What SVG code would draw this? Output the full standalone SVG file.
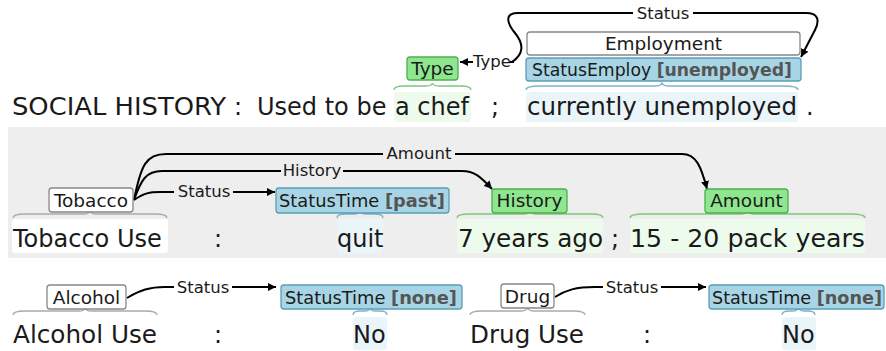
<svg xmlns="http://www.w3.org/2000/svg" width="886" height="351" viewBox="0 0 886 351">
  <defs>
    <marker id="arrow" viewBox="0 0 10 10" refX="10" refY="5" markerWidth="8" markerHeight="8" markerUnits="userSpaceOnUse" orient="auto">
      <path d="M0,0 L10,5 L0,10 z" fill="#000"/>
    </marker>
  </defs>
  <style>
    text { font-family: "DejaVu Sans", Verdana, sans-serif; fill: #1a1a1a; }
    .sent { font-size: 24px; }
    .lbl { font-size: 18.5px; text-anchor: middle; }
    .arclbl { font-size: 16.5px; text-anchor: middle; }
    .attr { font-weight: bold; fill: #555; }
    .arc { fill: none; stroke: #000; stroke-width: 2; }
    .arrowed { marker-end: url(#arrow); }
    .ent { fill: #fff; stroke: #888; stroke-width: 1.3; }
    .green { fill: #8ee68e; stroke: #4fae4f; stroke-width: 1.3; }
    .blue { fill: #a8d5e5; stroke: #5a9db6; stroke-width: 1.3; }
    .bgG { fill: #ecfbec; }
    .bgB { fill: #eaf5fa; }
    .bgW { fill: #fff; }
    .brace { fill: none; stroke-width: 1.3; }
    .brG { stroke: #7cc77c; }
    .brB { stroke: #7fb3c6; }
    .brN { stroke: #aaa; }
  </style>

  <!-- shaded band behind the tobacco sentence -->
  <rect x="8" y="127" width="878" height="131" fill="#eeeeee"/>

  <!-- span highlights behind the sentence text -->
  <g id="highlights">
    <rect class="bgG" x="394" y="92" width="77" height="30" rx="3"/>
    <rect class="bgB" x="526" y="92" width="272" height="30" rx="3"/>
    <rect class="bgW" x="12" y="219" width="156" height="34" rx="3"/>
    <rect class="bgB" x="337" y="219" width="46" height="34" rx="3"/>
    <rect class="bgG" x="457" y="219" width="146" height="34" rx="3"/>
    <rect class="bgG" x="630" y="219" width="235" height="34" rx="3"/>
    <rect class="bgB" x="353" y="317" width="34" height="33" rx="3"/>
    <rect class="bgB" x="782" y="317" width="34" height="33" rx="3"/>
  </g>

  <!-- sentence text -->
  <g id="sentences">
    <text class="sent" x="12" y="115" textLength="214" lengthAdjust="spacingAndGlyphs">SOCIAL HISTORY</text>
    <text class="sent" x="234" y="115">:</text>
    <text class="sent" x="257" y="115">Used to be</text>
    <text class="sent" x="395" y="115">a chef</text>
    <text class="sent" x="491" y="115">;</text>
    <text class="sent" x="527" y="115" textLength="270" lengthAdjust="spacingAndGlyphs">currently unemployed</text>
    <text class="sent" x="806" y="115">.</text>

    <text class="sent" x="13" y="247">Tobacco Use</text>
    <text class="sent" x="214" y="247">:</text>
    <text class="sent" x="337" y="247">quit</text>
    <text class="sent" x="458" y="247" textLength="145" lengthAdjust="spacingAndGlyphs">7 years ago</text>
    <text class="sent" x="611" y="247">;</text>
    <text class="sent" x="630" y="247" textLength="235" lengthAdjust="spacingAndGlyphs">15 - 20 pack years</text>

    <text class="sent" x="13" y="343" textLength="144" lengthAdjust="spacingAndGlyphs">Alcohol Use</text>
    <text class="sent" x="214" y="343">:</text>
    <text class="sent" x="353" y="343">No</text>
    <text class="sent" x="470" y="343" textLength="114" lengthAdjust="spacingAndGlyphs">Drug Use</text>
    <text class="sent" x="643" y="343">:</text>
    <text class="sent" x="782" y="343">No</text>
  </g>

  <!-- span braces -->
  <g id="braces">
    <path class="brace brG" d="M394,90 Q394,86 404,86 L426,86 Q432,86 432.5,83 Q433,86 439,86 L461,86 Q471,86 471,90"/>
    <path class="brace brB" d="M526,90 Q526,86 540,86 L655,86 Q661,86 662,83 Q663,86 669,86 L784,86 Q798,86 798,90"/>
    <path class="brace brN" d="M13,218 Q13,214 25,214 L84,214 Q89,214 90,211 Q91,214 96,214 L155,214 Q167,214 167,218"/>
    <path class="brace brB" d="M337,218 Q337,214 345,214 L354,214 Q359,214 360,211 Q361,214 366,214 L375,214 Q383,214 383,218"/>
    <path class="brace brG" d="M457,218 Q457,214 469,214 L524,214 Q529,214 530,211 Q531,214 536,214 L591,214 Q603,214 603,218"/>
    <path class="brace brG" d="M630,218 Q630,214 644,214 L741,214 Q746,214 747.5,211 Q749,214 754,214 L851,214 Q865,214 865,218"/>
    <path class="brace brN" d="M13,315 Q13,311 25,311 L79,311 Q84,311 85,308 Q86,311 91,311 L145,311 Q157,311 157,315"/>
    <path class="brace brB" d="M353,315 Q353,311 360,311 L365,311 Q369,311 370,308 Q371,311 375,311 L380,311 Q387,311 387,315"/>
    <path class="brace brN" d="M470,315 Q470,311 482,311 L521,311 Q526,311 527.5,308 Q529,311 534,311 L573,311 Q585,311 585,315"/>
    <path class="brace brB" d="M782,315 Q782,311 789,311 L793,311 Q797,311 798.5,308 Q800,311 804,311 L808,311 Q815,311 815,315"/>
  </g>

  <!-- connectors -->
  <g id="connectors">
    <!-- Employment: Status and Type -->
    <path class="arc" d="M512,62 C524,54 524,44 515,33 C506,22 505,13 518,13 L633,13"/>
    <path class="arc arrowed" d="M693,13 L806,13 C818,13 820,20 815,30 L801,57"/>
    <path class="arc" d="M510,62 L514,62"/>
    <path class="arc arrowed" d="M473,62 L460,62"/>
    <text class="arclbl" x="663" y="19">Status</text>
    <text class="arclbl" x="492" y="67">Type</text>

    <!-- Tobacco: Status, History, Amount -->
    <path class="arc" d="M134,200 C144,193 150,192 160,192 L174,192"/>
    <path class="arc arrowed" d="M233,192 L275,192"/>
    <text class="arclbl" x="204" y="197">Status</text>

    <path class="arc" d="M134,200 C141,180 146,171 162,171 L281,171"/>
    <path class="arc arrowed" d="M343,171 L462,171 C474,171 480,176 492,189"/>
    <text class="arclbl" x="312" y="176">History</text>

    <path class="arc" d="M134,200 C141,165 146,154 166,154 L383,154"/>
    <path class="arc arrowed" d="M455,154 L682,154 C696,154 701,166 707,189"/>
    <text class="arclbl" x="419" y="159">Amount</text>

    <!-- Alcohol: Status -->
    <path class="arc" d="M127,298 C140,290 150,287 165,287 L174,287"/>
    <path class="arc arrowed" d="M232,287 L276,287"/>
    <text class="arclbl" x="203" y="293">Status</text>

    <!-- Drug: Status -->
    <path class="arc" d="M555,297 C566,290 576,287 595,287 L603,287"/>
    <path class="arc arrowed" d="M661,287 L706,287"/>
    <text class="arclbl" x="632" y="293">Status</text>
  </g>

  <!-- annotation nodes -->
  <g id="node-employment">
    <rect class="ent" x="527" y="32" width="273" height="23" rx="3"/>
    <text class="lbl" x="663.5" y="50">Employment</text>
  </g>
  <g id="node-statusemploy">
    <rect class="blue" x="526" y="58" width="275" height="23" rx="3"/>
    <text class="lbl" x="532" y="76" style="text-anchor:start" textLength="260" lengthAdjust="spacingAndGlyphs">StatusEmploy <tspan class="attr">[unemployed]</tspan></text>
  </g>
  <g id="node-type">
    <rect class="green" x="407" y="57" width="51" height="23" rx="3"/>
    <text class="lbl" x="432.5" y="75">Type</text>
  </g>

  <g id="node-tobacco">
    <rect class="ent" x="49" y="188" width="84" height="24" rx="3"/>
    <text class="lbl" x="91" y="207">Tobacco</text>
  </g>
  <g id="node-statustime-past">
    <rect class="blue" x="276" y="188" width="173" height="25" rx="3"/>
    <text class="lbl" x="279" y="207" style="text-anchor:start" textLength="166" lengthAdjust="spacingAndGlyphs">StatusTime <tspan class="attr">[past]</tspan></text>
  </g>
  <g id="node-history">
    <rect class="green" x="492" y="189" width="75" height="24" rx="3"/>
    <text class="lbl" x="529.5" y="207">History</text>
  </g>
  <g id="node-amount">
    <rect class="green" x="705" y="189" width="83" height="24" rx="3"/>
    <text class="lbl" x="746.5" y="207">Amount</text>
  </g>

  <g id="node-alcohol">
    <rect class="ent" x="47" y="285" width="79" height="24" rx="3"/>
    <text class="lbl" x="86.5" y="304">Alcohol</text>
  </g>
  <g id="node-statustime-none-1">
    <rect class="blue" x="281" y="285" width="181" height="24" rx="3"/>
    <text class="lbl" x="285" y="304" style="text-anchor:start" textLength="172" lengthAdjust="spacingAndGlyphs">StatusTime <tspan class="attr">[none]</tspan></text>
  </g>
  <g id="node-drug">
    <rect class="ent" x="501" y="284" width="53" height="24" rx="3"/>
    <text class="lbl" x="527.5" y="303">Drug</text>
  </g>
  <g id="node-statustime-none-2">
    <rect class="blue" x="709" y="285" width="175" height="24" rx="3"/>
    <text class="lbl" x="712" y="304" style="text-anchor:start" textLength="170" lengthAdjust="spacingAndGlyphs">StatusTime <tspan class="attr">[none]</tspan></text>
  </g>
</svg>
